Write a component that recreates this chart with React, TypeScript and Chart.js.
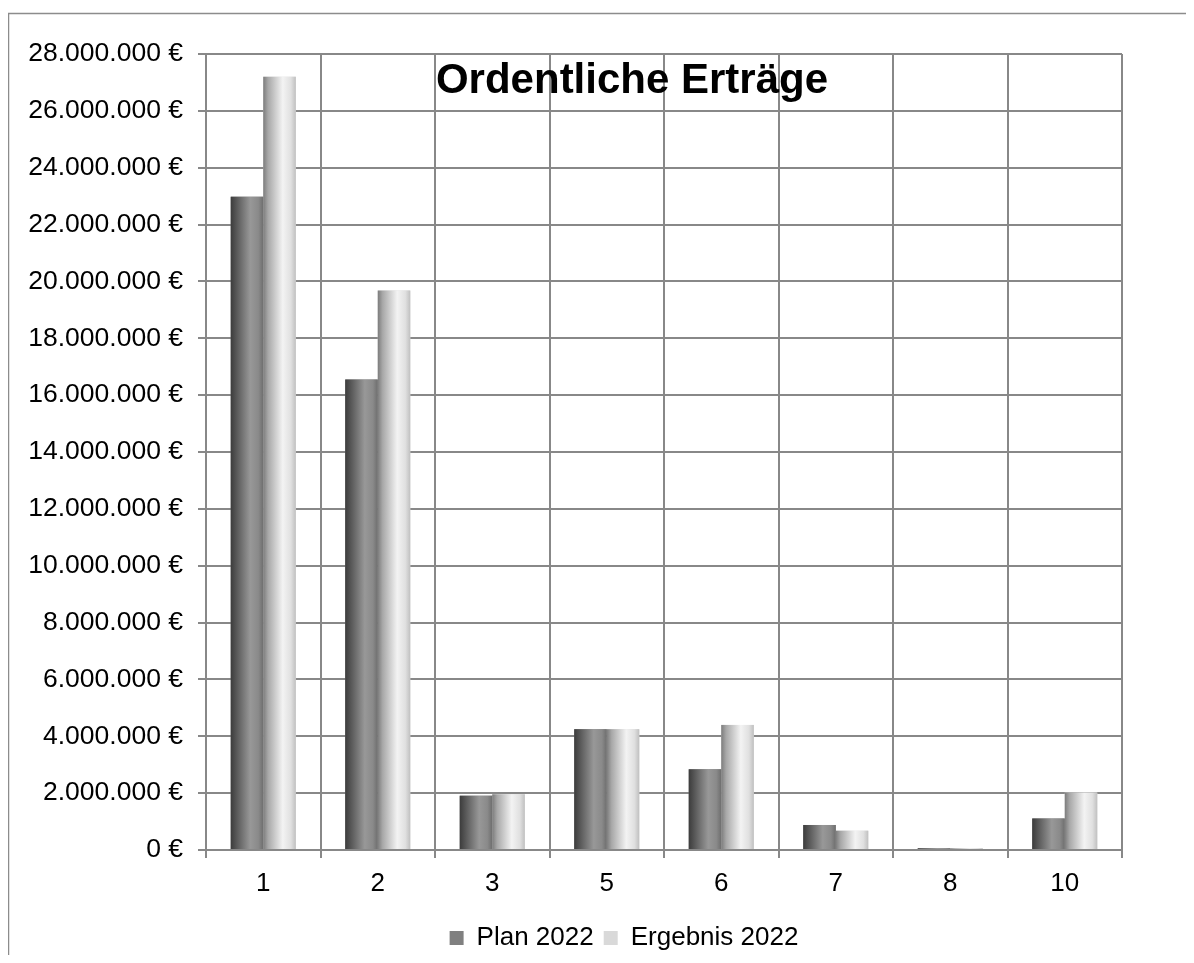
import { useEffect, useRef } from "react";
import { Chart, registerables } from "chart.js";

Chart.register(...registerables);

const categories = ["1", "2", "3", "5", "6", "7", "8", "10"];
const plan2022 = [22980000, 16550000, 1910000, 4250000, 2840000, 880000, 60000, 1110000];
const ergebnis2022 = [27200000, 19680000, 1960000, 4250000, 4400000, 680000, 60000, 2020000];
const seriesNames = ["Plan 2022", "Ergebnis 2022"];
const yTickLabels = [
  "0 €",
  "2.000.000 €",
  "4.000.000 €",
  "6.000.000 €",
  "8.000.000 €",
  "10.000.000 €",
  "12.000.000 €",
  "14.000.000 €",
  "16.000.000 €",
  "18.000.000 €",
  "20.000.000 €",
  "22.000.000 €",
  "24.000.000 €",
  "26.000.000 €",
  "28.000.000 €",
];
const titleText = "Ordentliche Erträge";

const FONT = 'Arial, "Liberation Sans", sans-serif';
const GRID = "#888888";

const barStops: [number, string][][] = [
  [
    [0, "#3c3c3c"],
    [0.15, "#535353"],
    [0.6, "#989898"],
    [0.85, "#8a8a8a"],
    [1, "#6e6e6e"],
  ],
  [
    [0, "#7c7c7c"],
    [0.15, "#a8a8a8"],
    [0.6, "#f3f3f3"],
    [0.85, "#e0e0e0"],
    [1, "#c0c0c0"],
  ],
];

const cylinderPlugin = {
  id: "cylinderBars",
  afterDatasetsDraw(chart: any) {
    const ctx = chart.ctx;
    chart.data.datasets.forEach((_ds: any, di: number) => {
      const meta = chart.getDatasetMeta(di);
      meta.data.forEach((el: any) => {
        const { x, y, base, width } = el.getProps(["x", "y", "base", "width"], true);
        const left = x - width / 2;
        const g = ctx.createLinearGradient(left, 0, left + width, 0);
        barStops[di].forEach(([o, c]) => g.addColorStop(o, c));
        ctx.save();
        ctx.fillStyle = g;
        ctx.fillRect(left, y, width, base - y);
        ctx.restore();
      });
    });
  },
};

const framePlugin = {
  id: "frameAndTitle",
  afterLayout(chart: any) {
    // the legend is centred on the whole original chart frame, which reaches past the right edge
    if (chart.legend) {
      chart.legend.left += 59;
      chart.legend.right += 59;
    }
  },
  beforeDraw(chart: any) {
    const ctx = chart.ctx;
    ctx.save();
    ctx.fillStyle = "#ffffff";
    ctx.fillRect(0, 0, chart.width, chart.height);
    ctx.strokeStyle = "#8c8c8c";
    ctx.lineWidth = 1.5;
    ctx.beginPath();
    ctx.moveTo(0.5, chart.height);
    ctx.lineTo(0.5, 5.5);
    ctx.lineTo(chart.width - 1, 5.5);
    ctx.stroke();
    ctx.restore();
  },
  afterDraw(chart: any) {
    const ctx = chart.ctx;
    ctx.save();
    ctx.font = `bold 42px ${FONT}`;
    ctx.fillStyle = "#000000";
    ctx.textAlign = "center";
    ctx.textBaseline = "alphabetic";
    ctx.fillText(titleText, 624, 85);
    ctx.restore();
  },
};

export default function App() {
  const canvasRef = useRef<HTMLCanvasElement | null>(null);

  useEffect(() => {
    if (!canvasRef.current) return;
    Chart.defaults.font.family = FONT;
    const chart = new Chart(canvasRef.current, {
      type: "bar",
      data: {
        labels: categories,
        datasets: [
          {
            label: seriesNames[0],
            data: plan2022,
            backgroundColor: "#808080",
            borderColor: "#808080",
            borderWidth: 0,
          },
          {
            label: seriesNames[1],
            data: ergebnis2022,
            backgroundColor: "#d9d9d9",
            borderColor: "#d9d9d9",
            borderWidth: 0,
          },
        ],
      },
      options: {
        animation: false,
        responsive: false,
        devicePixelRatio: 1,
        datasets: {
          bar: {
            categoryPercentage: 0.568,
            barPercentage: 1,
          },
        },
        layout: {
          padding: { left: 0, right: 72, top: 46, bottom: 2 },
        },
        plugins: {
          title: { display: false },
          tooltip: { enabled: false },
          legend: {
            display: true,
            position: "bottom",
            labels: {
              color: "#000000",
              font: { size: 26, family: FONT },
              boxWidth: 14,
              boxHeight: 14,
              padding: 10,
            },
          },
        },
        scales: {
          x: {
            grid: {
              color: GRID,
              lineWidth: 2,
              offset: true,
              tickLength: 8,
              drawTicks: true,
            },
            border: { color: GRID, width: 2 },
            ticks: {
              color: "#000000",
              font: { size: 26, family: FONT },
              padding: 10,
              maxRotation: 0,
            },
            afterFit: (s: any) => {
              s.height = 65;
            },
          },
          y: {
            min: 0,
            max: 28000000,
            grid: {
              color: GRID,
              lineWidth: 2,
              tickLength: 8,
              drawTicks: true,
            },
            border: { color: GRID, width: 2 },
            ticks: {
              stepSize: 2000000,
              color: "#000000",
              font: { size: 26.5, family: FONT },
              padding: 15,
              callback: (_v: any, i: number) => yTickLabels[i],
            },
            afterFit: (s: any) => {
              s.width = 198;
            },
          },
        },
      },
      plugins: [framePlugin, cylinderPlugin],
    });
    return () => chart.destroy();
  }, []);

  return (
    <div style={{ width: 1186, height: 947, overflow: "hidden" }}>
      <canvas ref={canvasRef} width={1186} height={955} style={{ display: "block" }} />
    </div>
  );
}
